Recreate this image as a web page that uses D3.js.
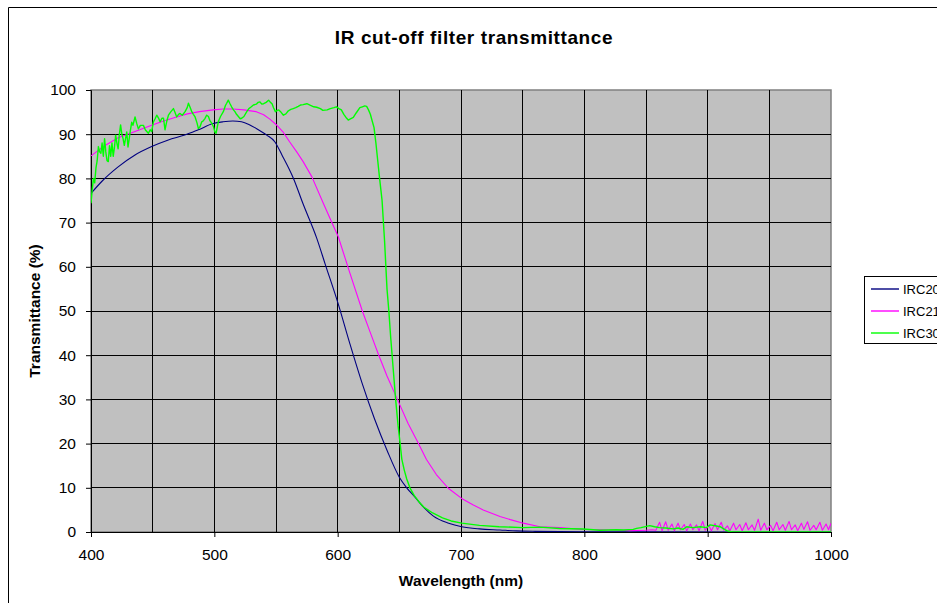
<!DOCTYPE html>
<html>
<head>
<meta charset="utf-8">
<script src="https://cdn.jsdelivr.net/npm/d3@7.9.0/dist/d3.min.js"></script>
<style>
  body { margin: 0; background: #fff; }
  svg { display: block; font-family: Arial, "Liberation Sans", sans-serif; }
</style>
</head>
<body>
<svg id="chart" width="937" height="603"></svg>
<script>
// tick labels
const xTicks = [400, 500, 600, 700, 800, 900, 1000];
const yTicks = [0, 10, 20, 30, 40, 50, 60, 70, 80, 90, 100];
const seriesNames = ["IRC20", "IRC21", "IRC30"];

// IRC20 (navy), smooth
const irc20Wl = [400, 408.7, 422, 435.7, 449.2, 462.7, 476, 487, 499, 507, 515, 522, 528, 534, 542.5, 549, 555, 564, 572, 583, 590, 600, 610, 620, 630, 640, 650, 656, 662.7, 670, 677.6, 690, 700.6, 715, 731.6, 745, 760, 800, 850, 1000];
const irc20T = [76.6, 79.3, 82.6, 85.3, 87.2, 88.7, 89.8, 91.0, 92.4, 92.8, 93.0, 92.8, 92.2, 91.3, 89.8, 88.3, 85.2, 80.1, 74.2, 66.5, 60.5, 52.0, 42.5, 33.5, 25.5, 18.5, 12.4, 10.0, 7.9, 5.5, 3.6, 2.0, 1.2, 0.7, 0.45, 0.25, 0.15, 0.05, 0.02, 0.0];

// IRC21 (magenta), smooth part then noisy tail
const irc21Wl = [400, 410, 422, 435.7, 447, 457, 468, 478, 488, 499, 507, 515, 524, 534, 540, 545, 550, 556, 561, 566.8, 572, 579, 588, 595, 600.5, 610, 620, 627, 633, 640, 650.5, 657, 665.4, 672, 680, 689.7, 700.5, 710, 718, 731.6, 740, 750.5, 764, 780, 799, 812.8, 826, 837, 850, 855, 858, 861, 863, 866, 868, 871, 873, 876, 878, 881, 883, 886, 888, 891, 893, 896, 898, 901, 903, 906, 908, 911, 913, 916, 918, 921, 923, 926, 928, 931, 933, 936, 938, 941, 943, 946, 948, 951, 953, 956, 958, 961, 963, 966, 968, 971, 973, 976, 978, 981, 983, 986, 988, 991, 993, 996, 998, 1000];
const irc21T = [85.1, 87.2, 89.2, 90.6, 91.8, 92.8, 93.8, 94.6, 95.1, 95.5, 95.7, 95.7, 95.5, 95.1, 94.4, 93.4, 92.2, 90.4, 88.3, 86.0, 83.8, 80.4, 74.6, 70.2, 66.8, 58.5, 50.0, 44.7, 40.2, 35.3, 28.7, 24.6, 20.1, 16.4, 13.0, 9.9, 7.6, 6.1, 5.0, 3.5, 2.8, 2.0, 1.2, 1.0, 0.55, 0.5, 0.45, 0.3, 0.4, 0.5, 0.4, 2.2, 0.3, 2.3, 0.4, 1.8, 0.3, 2.0, 0.5, 1.7, 0.3, 1.8, 0.5, 1.6, 0.3, 2.4, 0.4, 1.5, 0.3, 1.9, 0.5, 2.2, 0.4, 1.4, 0.3, 2.0, 0.5, 1.7, 0.3, 2.1, 0.5, 1.6, 0.4, 2.9, 0.4, 2.0, 0.5, 1.5, 0.3, 2.2, 0.5, 1.7, 0.4, 2.4, 0.5, 1.6, 0.3, 2.0, 0.6, 2.3, 0.4, 1.5, 0.5, 2.2, 0.4, 1.8, 0.5, 2.0];

// IRC30 (green), noisy
const irc30Wl = [400, 401, 402, 403, 404, 405, 406, 407, 408, 409, 410, 411, 412, 413, 414, 415, 416, 417, 418, 419, 420, 421, 422, 423, 424, 425, 426, 427, 428, 429, 430, 431, 432, 433, 434, 435.7, 437, 438.4, 440, 442.5, 444, 446.5, 448, 449.2, 450.6, 452, 453.3, 455, 456, 457.5, 458.8, 460, 461.5, 462.8, 464.5, 466.8, 468, 469.5, 471, 472.2, 474, 476.3, 478, 479, 480.5, 481.7, 483, 484.4, 486, 487, 488.4, 489.8, 491, 492.5, 493.8, 495.2, 496.5, 497.9, 499.3, 500.5, 501.4, 502.3, 503.2, 505, 507.3, 509, 510, 511.3, 512.5, 514, 515.5, 516.7, 518, 519.5, 521, 522.2, 524, 526.3, 528, 530, 531.7, 534, 535.5, 537, 538.5, 540, 542, 544, 545.5, 546.8, 548, 549.5, 551, 552.2, 554, 556, 558, 560, 562, 564, 566, 568, 569.8, 572, 575, 578, 580.6, 583, 586, 588, 591.5, 594, 597, 599, 601, 603, 605, 607.3, 608.6, 610, 612.7, 615, 618, 620, 622, 623.5, 625, 626.5, 628, 629.5, 631, 632.5, 634, 636, 638, 640, 641.5, 643, 645, 647, 649, 650.5, 652, 654, 656, 658.6, 662, 666, 670, 677, 685, 692, 700.6, 715, 731, 750, 764, 780, 799, 812.7, 826, 831.6, 839.7, 842.4, 846, 853, 857, 861, 866, 872, 876, 880, 883, 888, 894, 899, 902, 907, 910, 915.4, 920, 1000];
const irc30T = [74.4, 77.5, 80.0, 79.0, 82.3, 84.0, 87.2, 86.0, 85.7, 88.0, 85.0, 89.0, 86.0, 84.0, 83.8, 87.4, 85.0, 88.0, 85.0, 87.0, 89.8, 88.0, 86.7, 90.0, 92.1, 90.0, 89.0, 87.5, 89.0, 90.5, 87.1, 89.0, 91.0, 92.7, 92.0, 93.9, 92.5, 91.2, 92.0, 92.0, 91.0, 90.2, 91.0, 90.6, 92.8, 93.5, 94.3, 93.5, 92.8, 93.6, 93.6, 91.0, 93.0, 94.3, 95.0, 95.8, 95.0, 93.9, 94.5, 94.7, 94.3, 95.1, 96.0, 97.0, 96.0, 95.1, 94.5, 93.9, 92.5, 91.3, 91.7, 92.8, 93.0, 93.6, 94.3, 94.0, 93.0, 92.5, 91.7, 90.5, 90.2, 91.5, 92.8, 94.0, 95.1, 96.5, 97.0, 97.7, 97.0, 96.2, 95.5, 95.1, 94.5, 94.0, 93.5, 93.6, 94.0, 95.1, 95.8, 96.2, 96.6, 96.8, 97.2, 97.3, 96.8, 96.9, 97.2, 97.7, 97.2, 96.9, 96.0, 95.1, 95.4, 95.5, 95.0, 94.3, 94.6, 95.3, 95.6, 95.8, 96.0, 96.3, 96.6, 96.7, 96.9, 96.5, 96.2, 96.1, 95.8, 95.4, 95.5, 95.8, 96.0, 96.2, 95.8, 95.5, 94.5, 93.6, 93.2, 93.4, 93.8, 94.8, 96.0, 96.2, 96.4, 96.3, 95.5, 94.5, 93.0, 91.5, 88.0, 84.0, 80.0, 75.0, 66.0, 55.0, 50.0, 44.0, 37.0, 30.0, 24.0, 20.4, 16.5, 14.0, 12.0, 10.0, 8.3, 6.8, 5.6, 4.3, 3.2, 2.5, 2.0, 1.5, 1.2, 1.0, 1.1, 0.8, 0.68, 0.4, 0.5, 0.45, 0.6, 0.83, 1.0, 1.43, 1.2, 1.0, 0.9, 0.7, 0.9, 0.6, 1.2, 1.0, 1.2, 1.0, 1.6, 1.36, 1.2, 0.3, 0.0, 0.0];

const svg = d3.select('#chart');

const plot = { left: 91, right: 831, top: 90, bottom: 532 };

const xScale = d3.scaleLinear().domain([400, 1000]).range([plot.left, plot.right]);
const yScale = d3.scaleLinear().domain([0, 100]).range([plot.bottom, plot.top]);

// chart area border
svg.append('path')
  .attr('d', 'M8.5,603 V7.5 H937')
  .attr('fill', 'none')
  .attr('stroke', '#000')
  .attr('stroke-width', 1);

// title
svg.append('text')
  .attr('x', 474)
  .attr('y', 44)
  .attr('text-anchor', 'middle')
  .attr('font-size', 19)
  .attr('letter-spacing', 0.6)
  .attr('font-weight', 'bold')
  .text('IR cut-off filter transmittance');

// plot area background
svg.append('rect')
  .attr('x', plot.left)
  .attr('y', plot.top)
  .attr('width', plot.right - plot.left)
  .attr('height', plot.bottom - plot.top)
  .attr('fill', '#c0c0c0')
  .attr('stroke', '#808080')
  .attr('stroke-width', 1.5);

// gridlines
const grid = svg.append('g').attr('class', 'grid').attr('shape-rendering', 'crispEdges');
grid.selectAll('line.h')
  .data(yTicks.filter(d => d > 0 && d < 100))
  .join('line')
  .attr('class', 'h')
  .attr('x1', plot.left).attr('x2', plot.right)
  .attr('y1', d => yScale(d)).attr('y2', d => yScale(d))
  .attr('stroke', '#000');
grid.selectAll('line.v')
  .data(d3.range(450, 1000, 50))
  .join('line')
  .attr('class', 'v')
  .attr('y1', plot.top).attr('y2', plot.bottom)
  .attr('x1', d => xScale(d)).attr('x2', d => xScale(d))
  .attr('stroke', '#000');

// axes
const xAxis = d3.axisBottom(xScale).tickValues(xTicks).tickSize(5).tickPadding(12).tickFormat(d3.format('d'));
const yAxis = d3.axisLeft(yScale).tickValues(yTicks).tickSize(5).tickPadding(10).tickFormat(d3.format('d'));

const gx = svg.append('g')
  .attr('transform', `translate(0, ${plot.bottom})`)
  .call(xAxis);
const gy = svg.append('g')
  .attr('transform', `translate(${plot.left}, 0)`)
  .call(yAxis);

[gx, gy].forEach(g => {
  g.attr('font-family', 'Arial, "Liberation Sans", sans-serif').attr('font-size', 15.5);
  g.selectAll('text').attr('fill', '#000');
  g.selectAll('line').attr('stroke', '#000');
  g.select('.domain').attr('stroke', '#000');
});

// axis titles
svg.append('text')
  .attr('x', 461)
  .attr('y', 586)
  .attr('text-anchor', 'middle')
  .attr('font-size', 15.5)
  .attr('font-weight', 'bold')
  .text('Wavelength (nm)');

svg.append('text')
  .attr('transform', `translate(40, ${(plot.top + plot.bottom) / 2}) rotate(-90)`)
  .attr('text-anchor', 'middle')
  .attr('font-size', 15.5)
  .attr('font-weight', 'bold')
  .text('Transmittance (%)');

// series
svg.append('clipPath').attr('id', 'clip')
  .append('rect')
  .attr('x', plot.left).attr('y', plot.top - 2)
  .attr('width', plot.right - plot.left).attr('height', plot.bottom - plot.top + 2);

const series = [
  { name: seriesNames[0], wl: irc20Wl, t: irc20T, color: '#000080', width: 1.1, curve: d3.curveMonotoneX },
  { name: seriesNames[1], wl: irc21Wl, t: irc21T, color: '#ff00ff', width: 1.1, curve: d3.curveLinear },
  { name: seriesNames[2], wl: irc30Wl, t: irc30T, color: '#00ff00', width: 1.4, curve: d3.curveLinear }
];

const lineGen = d3.line()
  .x(d => xScale(d[0]))
  .y(d => yScale(d[1]));

const lines = svg.append('g').attr('clip-path', 'url(#clip)');
series.forEach(s => {
  lines.append('path')
    .datum(d3.zip(s.wl, s.t))
    .attr('fill', 'none')
    .attr('stroke', s.color)
    .attr('stroke-width', s.width)
    .attr('stroke-linejoin', 'round')
    .attr('d', lineGen.curve(s.curve));
});

// legend
const legend = svg.append('g').attr('transform', 'translate(864, 276)');
legend.append('rect')
  .attr('x', 0.5).attr('y', 0.5)
  .attr('width', 100).attr('height', 67)
  .attr('fill', '#fff')
  .attr('stroke', '#000');

const items = legend.selectAll('g.item')
  .data(series)
  .join('g')
  .attr('class', 'item')
  .attr('transform', (d, i) => `translate(0, ${13 + i * 22})`);
items.append('line')
  .attr('x1', 7).attr('x2', 35)
  .attr('stroke', d => d.color)
  .attr('stroke-width', 1.4);
items.append('text')
  .attr('x', 39)
  .attr('y', 5)
  .attr('font-size', 13)
  .text(d => d.name);
</script>
</body>
</html>
